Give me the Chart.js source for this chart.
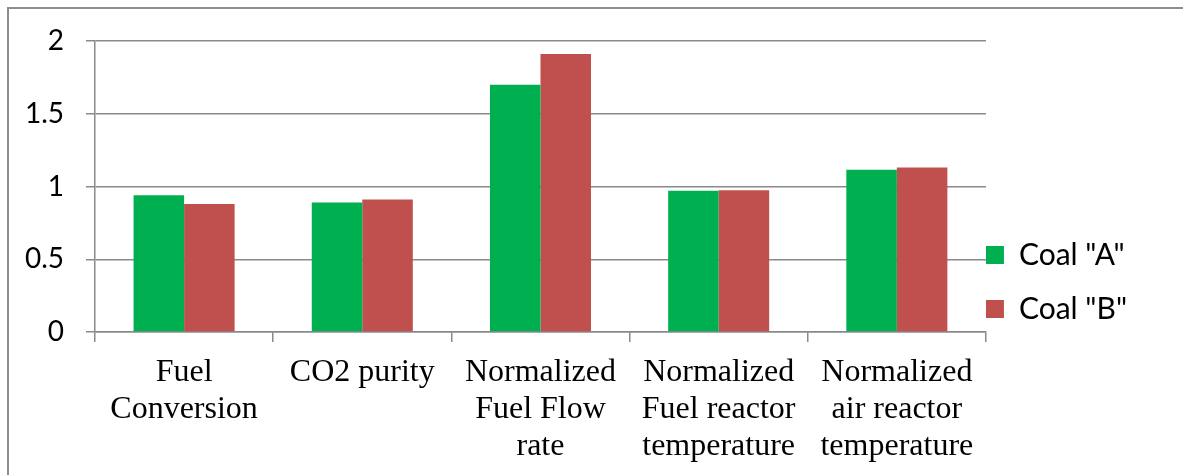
<!DOCTYPE html>
<html>
<head>
<meta charset="utf-8">
<script src="https://cdn.jsdelivr.net/npm/chart.js@4/dist/chart.umd.min.js"></script>
<style>
  html, body { margin: 0; padding: 0; background: #fff; overflow: hidden; }
  #frame { position: absolute; left: 7px; top: 7px; width: 1300px; height: 600px; border: 2px solid #8e8e8e; box-sizing: border-box; }
  #wrap { position: absolute; left: 0; top: 0; width: 1183px; height: 475px; }
</style>
</head>
<body>
<div id="frame"></div>
<div id="wrap"><canvas id="c"></canvas></div>
<script>
const categories = [
  ['Fuel', 'Conversion'],
  ['CO2 purity'],
  ['Normalized', 'Fuel Flow', 'rate'],
  ['Normalized', 'Fuel reactor', 'temperature'],
  ['Normalized', 'air reactor', 'temperature']
];
const seriesNames = ['Coal "A"', 'Coal "B"'];
const coalA = [0.94, 0.89, 1.70, 0.97, 1.115];
const coalB = [0.88, 0.91, 1.91, 0.975, 1.13];
const yMin = 0, yMax = 2, yStep = 0.5;

const legendShift = {
  id: 'legendShift',
  afterLayout(chart) {
    const l = chart.legend;
    if (!l) return;
    const dx = 24;
    l.left -= dx; l.right -= dx;
    const h = l.bottom - l.top;
    l.top = 216; l.bottom = 216 + h;
  }
};

new Chart(document.getElementById('c'), {
  type: 'bar',
  data: {
    labels: categories,
    datasets: [
      { label: seriesNames[0], data: coalA, backgroundColor: '#00B050' },
      { label: seriesNames[1], data: coalB, backgroundColor: '#C0504D' }
    ]
  },
  options: {
    responsive: true,
    maintainAspectRatio: false,
    animation: false,
    events: [],
    datasets: { bar: { categoryPercentage: 0.567, barPercentage: 1 } },
    layout: { padding: { left: 0, top: 41, right: 22, bottom: 0 } },
    plugins: {
      tooltip: { enabled: false },
      legend: {
        position: 'right',
        align: 'start',
        labels: {
          boxWidth: 18, boxHeight: 18, padding: 24,
          color: '#000',
          font: { family: 'Lato', size: 30 }
        }
      }
    },
    scales: {
      x: {
        grid: { display: true, drawOnChartArea: false, drawTicks: true, tickLength: 10, color: '#8a8a8a', lineWidth: 1.5, offset: true },
        border: { display: true, color: '#8a8a8a', width: 1.5 },
        ticks: { color: '#000', font: { family: 'Liberation Serif', size: 32, lineHeight: 1.16 }, padding: 12, maxRotation: 0, autoSkip: false },
        afterFit(scale) { scale.height = 475 - 332; }
      },
      y: {
        min: yMin, max: yMax,
        ticks: { stepSize: yStep, color: '#000', font: { family: 'Lato', size: 28 }, padding: 22, callback: (v) => String(v) },
        grid: { color: '#8a8a8a', lineWidth: 1.5, tickLength: 9 },
        border: { display: true, color: '#8a8a8a', width: 1.5 },
        afterFit(scale) { scale.width = 95; }
      }
    }
  },
  plugins: [legendShift]
});
</script>
</body>
</html>
